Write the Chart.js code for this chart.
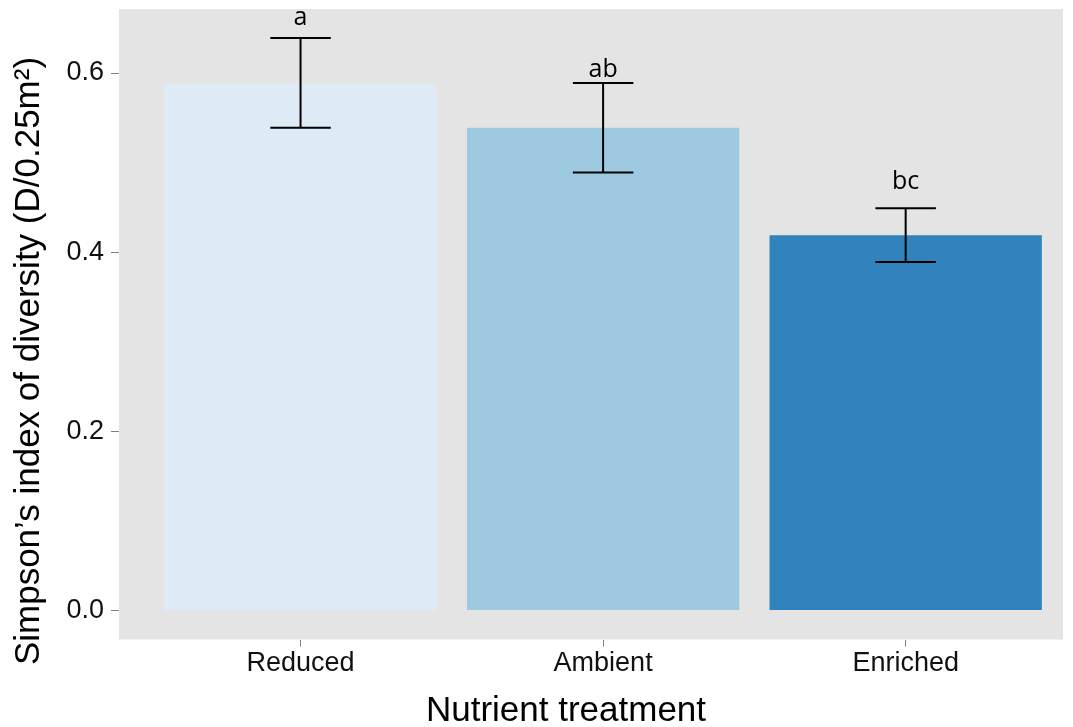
<!DOCTYPE html>
<html>
<head>
<meta charset="utf-8">
<script src="https://cdn.jsdelivr.net/npm/chart.js@4.4.1/dist/chart.umd.min.js"></script>
<style>
  body { margin: 0; background: #fff; }
</style>
</head>
<body>
<canvas id="myChart" width="1073" height="727"></canvas>
<script>
const treatments = ['Reduced', 'Ambient', 'Enriched'];
const simpson    = [0.588, 0.539, 0.419];
const errHigh    = [0.639, 0.589, 0.449];
const errLow     = [0.539, 0.489, 0.389];
const letters    = ['a', 'ab', 'bc'];
const letterY    = [0.654, 0.596, 0.471];
const yTicks     = [0.0, 0.2, 0.4, 0.6];
const barColors  = ['#DEEBF7', '#9ECAE1', '#3182BD'];
const xTitle     = 'Nutrient treatment';
const yTitle     = 'Simpson\u2019s index of diversity (D/0.25m\u00B2)';

// grey panel behind the bars
const panelBg = {
	id: 'panelBg',
	beforeDraw: function (chart) {
		const a = chart.chartArea;
		const ctx = chart.ctx;
		ctx.save();
		ctx.fillStyle = '#E4E4E4';
		ctx.fillRect(a.left, a.top, a.right - a.left, a.bottom - a.top);
		ctx.restore();
	}
};

// error bars + significance letters
const errorBars = {
	id: 'errorBars',
	afterDatasetsDraw: function (chart) {
		const ctx = chart.ctx;
		const xs = chart.scales.x;
		const ys = chart.scales.y;
		ctx.save();
		ctx.strokeStyle = '#000';
		ctx.lineWidth = 2;
		for (let i = 0; i < treatments.length; i++) {
			const cx = xs.getPixelForValue(i);
			const l  = xs.getPixelForValue(i - 0.1);
			const r  = xs.getPixelForValue(i + 0.1);
			const hi = ys.getPixelForValue(errHigh[i]);
			const lo = ys.getPixelForValue(errLow[i]);
			ctx.beginPath();
			ctx.moveTo(cx, hi); ctx.lineTo(cx, lo);
			ctx.moveTo(l, hi);  ctx.lineTo(r, hi);
			ctx.moveTo(l, lo);  ctx.lineTo(r, lo);
			ctx.stroke();
		}
		ctx.fillStyle = '#000';
		ctx.font = '25px "Open Sans"';
		ctx.textAlign = 'center';
		ctx.textBaseline = 'alphabetic';
		for (let i = 0; i < letters.length; i++) {
			ctx.fillText(letters[i], xs.getPixelForValue(i), ys.getPixelForValue(letterY[i]));
		}
		ctx.restore();
	}
};

// axis titles (placed like the original figure, slightly off the panel centre)
const axisTitles = {
	id: 'axisTitles',
	afterDraw: function (chart) {
		const ctx = chart.ctx;
		const a = chart.chartArea;
		ctx.save();
		ctx.fillStyle = '#000';
		ctx.font = '35px "Liberation Sans"';
		ctx.textAlign = 'center';
		ctx.textBaseline = 'middle';
		ctx.fillText(xTitle, a.left + 447, a.bottom + 72);
		ctx.translate(29, a.top + 352);
		ctx.rotate(-Math.PI / 2);
		ctx.fillText(yTitle, 0, 0);
		ctx.restore();
	}
};

const ctx1 = document.getElementById('myChart').getContext('2d');

const myChart = new Chart(ctx1, {
	type: 'bar',
	data: {
		datasets: [{
			data: simpson.map(function (v, i) { return { x: i, y: v }; }),
			backgroundColor: barColors,
			borderWidth: 0,
			categoryPercentage: 0.9,
			barPercentage: 1.0
		}]
	},
	options: {
		responsive: false,
		animation: false,
		layout: {
			autoPadding: false,
			padding: { top: 9, right: 10, left: 0, bottom: 0 }
		},
		plugins: {
			legend: { display: false },
			tooltip: { enabled: false }
		},
		scales: {
			x: {
				type: 'linear',
				min: -0.6,
				max: 2.52,
				offset: false,
				afterBuildTicks: function (scale) {
					scale.ticks = treatments.map(function (_, i) { return { value: i }; });
				},
				afterFit: function (scale) {
					scale.height = 87.5;
					scale.paddingLeft = 0;
					scale.paddingRight = 0;
				},
				ticks: {
					callback: function (v) { return treatments[v]; },
					color: '#111',
					font: { family: 'Liberation Sans', size: 27 },
					padding: 1,
					maxRotation: 0
				},
				grid: {
					offset: false,
					drawOnChartArea: false,
					drawTicks: true,
					tickLength: 7,
					color: '#7F7F7F'
				},
				border: { display: false }
			},
			y: {
				min: -0.0324,
				max: 0.6715,
				afterBuildTicks: function (scale) {
					scale.ticks = yTicks.map(function (v) { return { value: v }; });
				},
				afterFit: function (scale) {
					scale.width = 119;
					scale.paddingTop = 0;
					scale.paddingBottom = 0;
				},
				ticks: {
					callback: function (v) { return v.toFixed(1); },
					color: '#111',
					font: { family: 'Liberation Sans', size: 27 },
					padding: 7
				},
				grid: {
					drawOnChartArea: false,
					drawTicks: true,
					tickLength: 8,
					color: '#7F7F7F'
				},
				border: { display: false }
			}
		}
	},
	plugins: [panelBg, errorBars, axisTitles]
});
</script>
</body>
</html>
